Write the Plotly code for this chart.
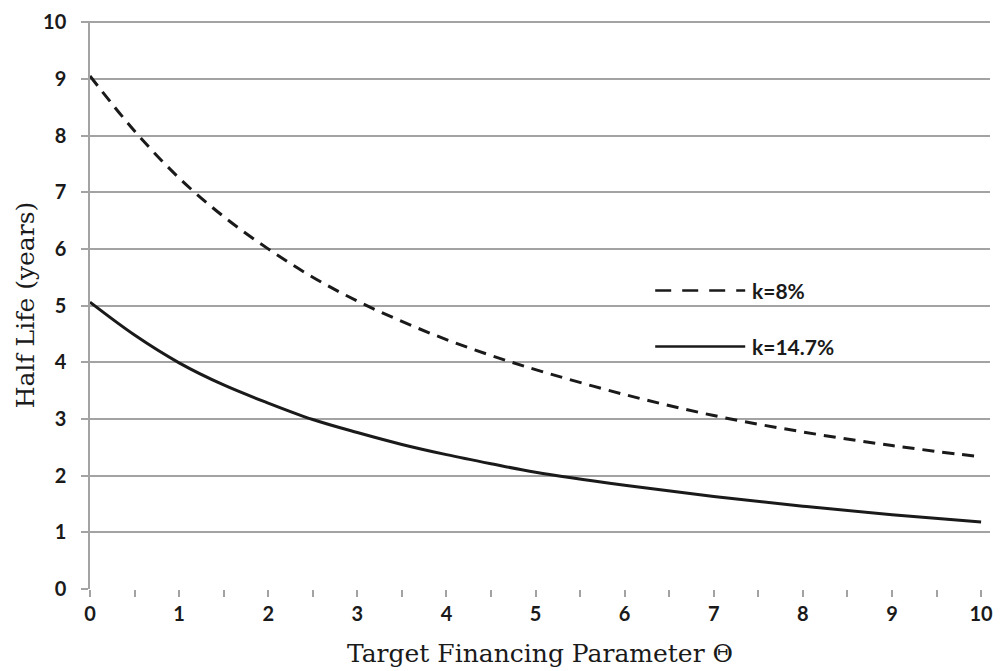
import plotly.graph_objects as go

theta = [0, 0.5, 1, 1.5, 2, 2.5, 3, 3.5, 4, 4.5, 5, 6, 7, 8, 9, 10]
half_life_k8 = [9.05, 8.08, 7.25, 6.57, 6.0, 5.5, 5.08, 4.72, 4.40, 4.12, 3.87, 3.43, 3.06, 2.77, 2.53, 2.33]
half_life_k147 = [5.06, 4.48, 3.99, 3.60, 3.28, 2.99, 2.76, 2.55, 2.37, 2.21, 2.06, 1.83, 1.63, 1.46, 1.31, 1.18]
series_names = ["k=8%", "k=14.7%"]
x_ticks = list(range(0, 11))
y_ticks = list(range(0, 11))

LINE = "#1a1a1a"
GRID = "#a3a3a3"
TICKFONT = dict(family="Lato", size=20, color="#1a1a1a", weight="bold")
LEGFONT = dict(family="Lato", size=21, color="#1a1a1a", weight="bold")
TITLEFONT = dict(family="DejaVu Serif", size=25, color="#1a1a1a")

fig = go.Figure()
fig.add_trace(go.Scatter(x=theta, y=half_life_k8, mode="lines", name=series_names[0],
                         line=dict(color=LINE, width=3, dash="12px,8px", shape="spline"),
                         showlegend=False, cliponaxis=False))
fig.add_trace(go.Scatter(x=theta, y=half_life_k147, mode="lines", name=series_names[1],
                         line=dict(color=LINE, width=3, shape="spline"),
                         showlegend=False, cliponaxis=False))

# Legend drawn inside plot area
legend_items = [(0.5255, "16px,11px", series_names[0]), (0.427, "solid", series_names[1])]
for yy, dash, label in legend_items:
    fig.add_shape(type="line", xref="paper", yref="paper", x0=0.628, x1=0.728, y0=yy, y1=yy,
                  line=dict(color=LINE, width=2.5, dash=dash))
    fig.add_annotation(xref="paper", yref="paper", x=0.733, y=yy, text=label, showarrow=False,
                       xanchor="left", yanchor="middle", font=LEGFONT)

fig.update_layout(
    width=1003, height=671,
    margin=dict(l=82, r=21, t=13, b=90, autoexpand=False),
    paper_bgcolor="white", plot_bgcolor="white",
    xaxis=dict(range=[0, 10.1], tickvals=x_ticks, ticktext=[str(v) for v in x_ticks],
               showgrid=False, zeroline=False, showline=False, automargin=False,
               ticks="outside", ticklen=7, tickwidth=1.5, tickcolor=GRID,
               minor=dict(dtick=0.5, tick0=0, ticks="outside", ticklen=7, tickwidth=1.5, tickcolor=GRID, showgrid=False),
               tickfont=TICKFONT, ticklabelstandoff=0, ticklabeloverflow="allow",
               title=dict(text="Target Financing Parameter Θ", font=TITLEFONT, standoff=20)),
    yaxis=dict(range=[0, 10.02], tickvals=y_ticks, ticktext=[str(v) for v in y_ticks],
               showgrid=True, gridcolor=GRID, gridwidth=1.5, zeroline=False, automargin=False,
               showline=True, linecolor=GRID, linewidth=1.5,
               ticks="outside", ticklen=7, tickwidth=1.5, tickcolor=GRID,
               tickfont=TICKFONT, ticklabelstandoff=11, ticklabeloverflow="allow",
               title=dict(text="Half Life (years)", font=TITLEFONT, standoff=1)),
)

fig.write_html("out.html")
